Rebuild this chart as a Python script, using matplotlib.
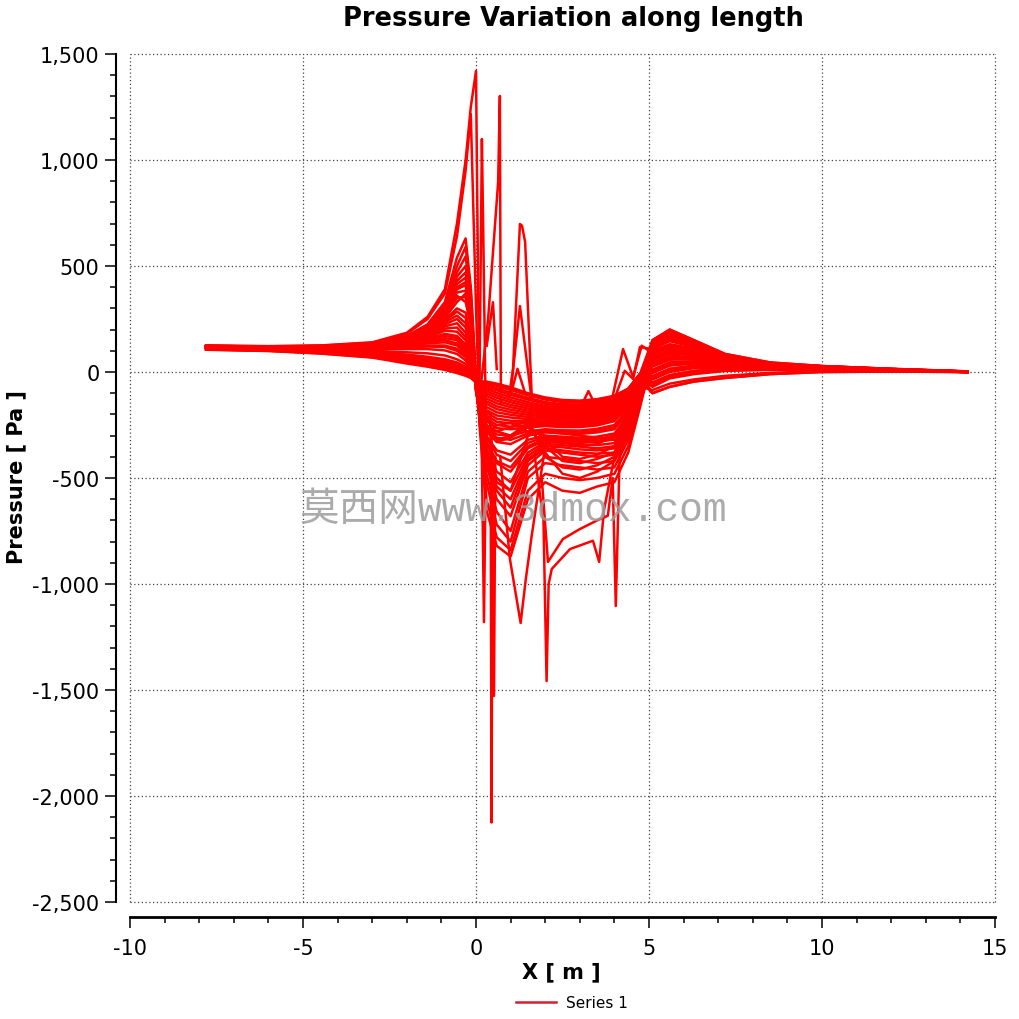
import matplotlib
matplotlib.use("Agg")
import matplotlib.pyplot as plt
from matplotlib.ticker import MultipleLocator, FuncFormatter
from matplotlib.lines import Line2D

# ---------------- data ----------------
title = "Pressure Variation along length"
x_label = "X [ m ]"
y_label = "Pressure [ Pa ]"
series_name = "Series 1"
watermark = "莫西网www.3dmox.com"

# common x grid for the band of curves [m]
x_grid = [-7.8, -6.0, -4.5, -3.0, -2.0, -1.4, -0.9, -0.55, -0.3, -0.15, 0.0,
          0.1, 0.3, 0.6, 1.0, 1.5, 2.0, 2.5, 3.0, 3.5, 4.0, 4.4, 4.75,
          5.1, 5.6, 6.3, 7.2, 8.5, 10.0, 12.0, 14.2]

# pressure [Pa] of each curve on x_grid
p01 = [125, 122, 125, 140, 185, 260, 390, 700, 1000, 1250, 1420,
       -250, -650, -820, -870, -600, -520, -560, -570, -540, -520, -380, -160,
       70, 100, 90, 60, 32, 24, 12, 1]
p02 = [124, 121, 124, 138, 180, 250, 370, 640, 950, 1217, 300,
       -200, -600, -780, -840, -560, -480, -500, -510, -500, -480, -350, -140,
       40, 70, 70, 52, 30, 22, 11, 1]
p03 = [123, 120, 123, 135, 170, 225, 330, 540, 630, 400, -30,
       -220, -520, -720, -800, -500, -430, -440, -450, -460, -450, -320, -130,
       120, 160, 125, 70, 36, 26, 13, 2]
p04 = [123, 120, 122, 134, 168, 220, 320, 500, 590, 380, -40,
       -230, -480, -660, -750, -470, -400, -410, -420, -430, -420, -300, -120,
       150, 200, 150, 85, 45, 28, 15, 3]
p05 = [122, 119, 121, 132, 165, 215, 305, 450, 500, 330, -50,
       -220, -440, -600, -680, -440, -370, -380, -390, -400, -390, -280, -110,
       140, 185, 140, 78, 40, 27, 14, 2]
p06 = [122, 119, 121, 131, 162, 210, 295, 430, 470, 300, -60,
       -210, -400, -540, -600, -410, -350, -355, -365, -370, -360, -260, -100,
       100, 130, 110, 65, 34, 25, 12, 1]
p07 = [121, 118, 120, 130, 160, 205, 285, 400, 424, 270, -70,
       -200, -360, -470, -520, -380, -330, -335, -340, -345, -335, -240, -90,
       10, 45, 50, 42, 27, 20, 10, 1]
p08 = [121, 118, 120, 129, 158, 200, 275, 375, 384, 250, -80,
       -190, -330, -420, -450, -350, -315, -320, -325, -325, -310, -220, -80,
       120, 160, 125, 70, 36, 26, 13, 2]
p09 = [120, 117, 119, 128, 155, 195, 265, 350, 354, 230, -90,
       -180, -300, -370, -390, -320, -300, -305, -310, -305, -290, -205, -70,
       -20, 15, 30, 30, 22, 17, 9, 0]
p10 = [120, 117, 118, 126, 150, 185, 245, 300, 280, 170, -80,
       -170, -280, -330, -340, -300, -285, -290, -292, -285, -270, -190, -60,
       140, 185, 140, 78, 40, 27, 14, 2]
p11 = [119, 116, 117, 124, 145, 178, 235, 266, 230, 140, -70,
       -155, -255, -295, -300, -280, -270, -275, -276, -268, -250, -175, -50,
       -50, -15, 5, 15, 15, 14, 8, 0]
p12 = [119, 116, 117, 123, 142, 172, 225, 250, 210, 120, -60,
       -140, -230, -265, -270, -262, -255, -260, -260, -252, -232, -162, -45,
       70, 100, 90, 60, 32, 24, 12, 1]
p13 = [118, 115, 116, 120, 135, 160, 195, 190, 150, 80, -50,
       -125, -205, -235, -242, -242, -240, -245, -245, -238, -215, -150, -40,
       -100, -70, -45, -28, -10, 0, 2, 0]
p14 = [117, 114, 115, 118, 130, 150, 171, 160, 120, 60, -40,
       -110, -180, -205, -215, -222, -225, -230, -230, -224, -200, -140, -35,
       40, 70, 70, 52, 30, 22, 11, 1]
p15 = [116, 113, 113, 115, 122, 135, 140, 125, 90, 40, -35,
       -95, -150, -175, -190, -202, -210, -215, -215, -208, -185, -128, -30,
       100, 130, 110, 65, 34, 25, 12, 1]
p16 = [116, 113, 112, 112, 115, 120, 118, 100, 70, 30, -30,
       -85, -125, -148, -166, -182, -194, -200, -200, -192, -170, -118, -25,
       -20, 15, 30, 30, 22, 17, 9, 0]
p17 = [113, 109, 104, 95, 82, 72, 60, 45, 25, 0, -35,
       -72, -100, -122, -143, -162, -178, -184, -184, -176, -156, -106, -20,
       10, 45, 50, 42, 27, 20, 10, 1]
p18 = [110, 105, 97, 84, 66, 52, 38, 22, 5, -12, -40,
       -62, -80, -98, -120, -142, -160, -168, -168, -160, -142, -96, -15,
       -50, -15, 5, 15, 15, 14, 8, 0]
p19 = [107, 101, 90, 74, 50, 35, 22, 6, -8, -20, -45,
       -52, -62, -76, -98, -122, -142, -152, -153, -145, -128, -88, -10,
       -100, -70, -45, -28, -10, 0, 2, 0]
p20 = [105, 99, 87, 68, 40, 25, 10, -5, -18, -28, -50,
       -45, -45, -55, -72, -100, -120, -132, -135, -128, -112, -78, -5,
       150, 200, 150, 85, 45, 28, 15, 3]
p21 = [123, 120, 122, 133, 166, 218, 312, 470, 545, 350, -45,
       -215, -420, -560, -640, -420, -360, -370, -380, -385, -380, -270, -105,
       130, 175, 132, 74, 38, 27, 14, 2]
p22 = [122, 119, 121, 130, 160, 207, 290, 415, 445, 285, -65,
       -205, -380, -500, -560, -395, -340, -345, -352, -360, -350, -250, -95,
       110, 145, 118, 68, 35, 26, 13, 2]
p23 = [121, 118, 119, 128, 156, 198, 270, 360, 330, 220, -85,
       -185, -310, -390, -420, -335, -305, -312, -318, -315, -300, -212, -75,
       85, 115, 100, 62, 33, 24, 12, 1]
p24 = [120, 117, 118, 125, 148, 182, 240, 285, 255, 155, -75,
       -165, -270, -310, -320, -290, -278, -282, -285, -277, -260, -182, -55,
       55, 85, 80, 56, 31, 23, 11, 1]
p25 = [119, 116, 116, 122, 140, 168, 215, 230, 185, 100, -55,
       -135, -220, -250, -258, -252, -248, -252, -253, -245, -225, -156, -42,
       25, 58, 60, 47, 29, 21, 10, 1]
p26 = [118, 115, 115, 119, 132, 155, 180, 170, 130, 70, -45,
       -118, -190, -220, -230, -232, -233, -238, -238, -232, -208, -145, -38,
       -5, 30, 40, 36, 25, 19, 10, 1]
p27 = [117, 114, 114, 116, 126, 140, 150, 135, 100, 50, -38,
       -100, -165, -190, -202, -212, -218, -222, -222, -216, -192, -134, -32,
       -35, 0, 18, 22, 19, 16, 9, 0]
p28 = [116, 113, 112, 113, 118, 125, 125, 110, 80, 35, -32,
       -90, -138, -162, -178, -192, -202, -208, -208, -200, -178, -123, -28,
       -70, -30, -10, 5, 10, 11, 7, 0]
p29 = [115, 111, 109, 108, 108, 108, 102, 85, 55, 20, -30,
       -78, -112, -135, -155, -172, -186, -192, -192, -184, -163, -112, -22,
       145, 192, 145, 80, 42, 28, 14, 2]
p30 = [114, 110, 106, 100, 93, 88, 78, 60, 38, 12, -32,
       -67, -90, -110, -132, -152, -169, -176, -176, -168, -149, -101, -18,
       125, 170, 130, 72, 37, 26, 13, 2]
p31 = [112, 107, 101, 90, 75, 63, 50, 34, 16, -5, -38,
       -57, -72, -86, -108, -130, -150, -160, -161, -153, -136, -92, -12,
       90, 120, 105, 64, 33, 25, 12, 1]
p32 = [108, 103, 94, 80, 58, 42, 28, 12, -2, -15, -42,
       -50, -55, -65, -85, -110, -130, -142, -144, -137, -120, -83, -8,
       60, 90, 85, 58, 31, 23, 11, 1]
p33 = [106, 100, 88, 70, 45, 30, 16, 0, -12, -24, -48,
       -47, -50, -60, -78, -105, -125, -137, -140, -132, -116, -80, -6,
       30, 62, 62, 48, 29, 21, 10, 1]
p34 = [120, 117, 118, 127, 152, 190, 255, 330, 370, 240, -85,
       -190, -340, -430, -470, -360, -322, -327, -330, -330, -318, -226, -84,
       0, 35, 42, 38, 26, 19, 10, 1]
p35 = [121, 118, 120, 129, 157, 202, 280, 390, 410, 260, -75,
       -200, -380, -520, -560, -300, -280, -290, -300, -310, -320, -240, -90,
       -30, 5, 22, 25, 20, 16, 9, 0]
p36 = [118, 115, 116, 121, 137, 164, 205, 210, 165, 90, -50,
       -150, -300, -250, -240, -280, -300, -330, -350, -340, -300, -200, -60,
       -60, -25, -5, 8, 12, 12, 7, 0]
p37 = [117, 114, 115, 117, 128, 145, 160, 150, 110, 55, -42,
       -130, -260, -280, -300, -250, -320, -400, -410, -390, -350, -230, -70,
       -85, -55, -35, -18, -4, 4, 4, 0]
p38 = [113, 108, 103, 93, 79, 68, 55, 40, 20, -3, -36,
       -100, -200, -330, -310, -260, -350, -420, -430, -410, -380, -250, -80,
       115, 150, 120, 70, 36, 26, 13, 2]
p39 = [110, 105, 98, 86, 70, 57, 44, 28, 10, -8, -40,
       -120, -260, -320, -300, -240, -380, -480, -500, -470, -420, -280, -100,
       75, 105, 95, 60, 33, 24, 12, 1]
p40 = [109, 104, 96, 82, 62, 47, 32, 17, 2, -14, -44,
       -110, -250, -280, -260, -230, -400, -450, -460, -440, -400, -300, -120,
       45, 75, 72, 52, 30, 22, 11, 1]

# isolated spikes / dips (own x positions)
sa_x = [0.10, 0.17, 0.21, 0.28]
sa_y = [-80, 1099, 660, -200]
sb_x = [0.15, 0.35, 0.64, 0.69, 0.70, 0.72]
sb_y = [-50, 250, 896, 1302, 800, -150]
sc_x = [0.95, 1.07, 1.27, 1.33, 1.42, 1.61]
sc_y = [-120, 15, 698, 690, 613, -110]
sd_x = [1.00, 1.27, 1.60]
sd_y = [-100, 311, -120]
se_x = [1.05, 1.20, 1.40]
se_y = [-80, 15, -90]
sf_x = [0.31, 0.49, 0.60]
sf_y = [124, 329, 14]
sg_x = [0.15, 0.23, 0.30]
sg_y = [-150, -1180, -200]
sh_x = [0.42, 0.45, 0.48]
sh_y = [-200, -2125, -400]
si_x = [0.45, 0.52, 0.56]
si_y = [-300, -1528, -400]
sj_x = [0.70, 0.98, 1.29, 1.44, 1.61, 2.00]
sj_y = [-400, -882, -1184, -976, -772, -350]
sk_x = [1.70, 1.95, 2.04, 2.10, 2.19, 2.72, 3.38, 3.56, 3.70, 4.00, 4.30]
sk_y = [-400, -700, -1458, -1000, -929, -835, -796, -896, -650, -400, -250]
sl_x = [1.90, 2.08, 2.51, 3.00, 3.50, 3.81, 3.95, 4.04, 4.15, 4.40]
sl_y = [-500, -896, -788, -741, -700, -678, -500, -1104, -400, -250]
sm_x = [3.90, 4.25, 4.54, 4.79, 5.00]
sm_y = [-150, 108, -24, 124, 100]
sn_x = [3.95, 4.30, 4.54, 4.74, 5.00]
sn_y = [-150, 6, -33, 118, 110]
so_x = [3.10, 3.25, 3.40]
so_y = [-140, -90, -140]

band_curves = [p01, p02, p03, p04, p05, p06, p07, p08, p09, p10,
               p11, p12, p13, p14, p15, p16, p17, p18, p19, p20,
               p21, p22, p23, p24, p25, p26, p27, p28, p29, p30,
               p31, p32, p33, p34, p35, p36, p37, p38, p39, p40]
spike_curves = [(sa_x, sa_y), (sb_x, sb_y), (sc_x, sc_y), (sd_x, sd_y),
                (se_x, se_y), (sf_x, sf_y), (sg_x, sg_y), (sh_x, sh_y),
                (si_x, si_y), (sj_x, sj_y), (sk_x, sk_y), (sl_x, sl_y),
                (sm_x, sm_y), (sn_x, sn_y), (so_x, so_y)]

# ---------------- figure ----------------
W, H = 1020, 1020
fig = plt.figure(figsize=(W / 100, H / 100), dpi=100)
L, R, T, B = 130, 995, 55, 903
ax = fig.add_axes([L / W, 1 - B / H, (R - L) / W, (B - T) / H])

RED = "#ff0000"
for i, yv in enumerate(band_curves):
    ax.plot(x_grid, yv, color=RED, lw=1.8, solid_joinstyle="round",
            label=series_name if i == 0 else None, zorder=3)
for sx, sy in spike_curves:
    ax.plot(sx, sy, color=RED, lw=1.8, solid_joinstyle="round", zorder=3)

ax.set_xlim(-10, 15)
ax.set_ylim(-2500, 1500)

ax.xaxis.set_major_locator(MultipleLocator(5))
ax.xaxis.set_minor_locator(MultipleLocator(1))
ax.yaxis.set_major_locator(MultipleLocator(500))
ax.yaxis.set_minor_locator(MultipleLocator(100))
ax.yaxis.set_major_formatter(FuncFormatter(lambda v, p: f"{int(round(v)):,}"))
ax.xaxis.set_major_formatter(FuncFormatter(lambda v, p: f"{int(round(v))}"))

for s in ("top", "right"):
    ax.spines[s].set_visible(False)
ax.spines["left"].set_position(("outward", 10))
ax.spines["bottom"].set_position(("outward", 11))
ax.spines["left"].set_linewidth(1.5)
ax.spines["bottom"].set_linewidth(2.0)

ax.tick_params(axis="both", which="major", direction="out", length=8, width=1.1,
               labelsize=15, color="black")
ax.tick_params(axis="both", which="minor", direction="out", length=4.3, width=1.1,
               color="black")
ax.tick_params(axis="y", which="major", pad=4)
ax.tick_params(axis="x", which="major", pad=7)

ax.grid(True, which="major", color="#444444", linestyle=(0, (1, 2)), lw=0.9)
for gl in ax.get_xgridlines() + ax.get_ygridlines():
    gl.set_clip_on(False)
ax.set_axisbelow(True)

fig.text(573 / W, 1 - 19 / H, title, ha="center", va="center",
         fontsize=18.5, fontweight="bold")
fig.text(561 / W, 1 - 972 / H, x_label, ha="center", va="center",
         fontsize=15, fontweight="bold")
fig.text(16 / W, 1 - 477 / H, y_label, ha="center", va="center",
         rotation=90, fontsize=15, fontweight="bold")

handle = Line2D([], [], color="#d81e2a", lw=1.8)
fig.legend([handle], [series_name], loc="center",
           bbox_to_anchor=(572 / W, 1 - 1004 / H), frameon=False,
           fontsize=11, handlelength=2.6, handletextpad=0.7)

fig.text(300 / W, 1 - 510 / H, watermark, ha="left", va="center",
         fontsize=28.5, color="#9c9c9c", alpha=0.85, zorder=10,
         family=["Liberation Mono", "Noto Sans CJK SC", "DejaVu Sans"])

fig.savefig("out.png", dpi=100)
